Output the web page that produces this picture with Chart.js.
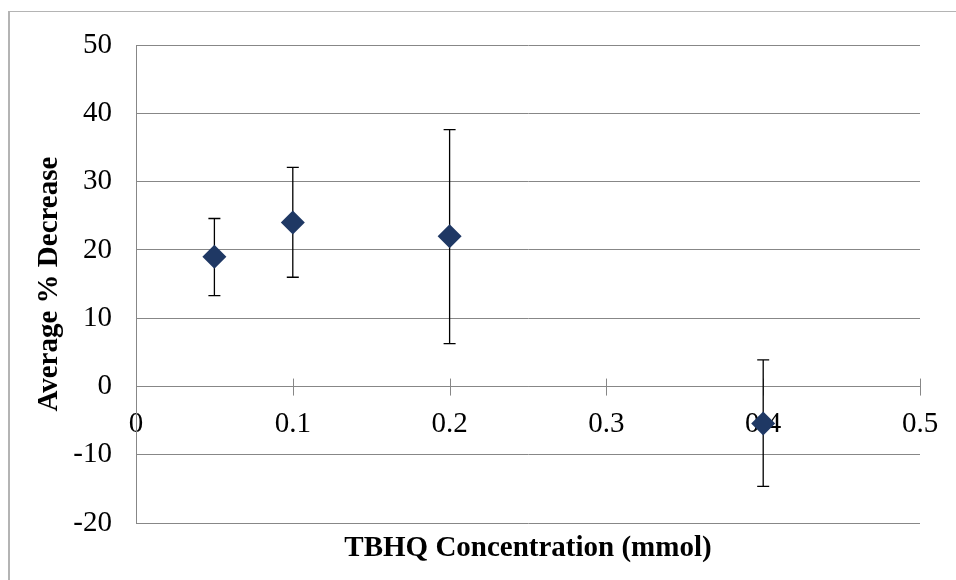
<!DOCTYPE html>
<html>
<head>
<meta charset="utf-8">
<script src="https://cdn.jsdelivr.net/npm/chart.js@4.4.0/dist/chart.umd.min.js"></script>
<style>
  html, body { margin: 0; padding: 0; background: #fff; }
  #wrap { width: 956px; height: 580px; }
</style>
</head>
<body>
<div id="wrap"><canvas id="chart" width="956" height="580"></canvas></div>
<script>
// data
const concentrations = [0.05, 0.1, 0.2, 0.4];
const avgDecrease = [19, 24, 22, -5.4];
const errHigh = [24.6, 32.1, 37.6, 3.9];
const errLow = [13.3, 16.0, 6.3, -14.6];
const xTicks = [0, 0.1, 0.2, 0.3, 0.4, 0.5];
const yTicks = [-20, -10, 0, 10, 20, 30, 40, 50];

const serif = '"Liberation Serif", "Times New Roman", serif';
const gridColor = '#878787';
const markerColor = '#1f3864';

// light grey frame round the whole chart
const frame = {
  id: 'frame',
  beforeDraw(chart) {
    const c = chart.ctx;
    c.save();
    c.fillStyle = '#fff';
    c.fillRect(0, 0, chart.width, chart.height);
    c.strokeStyle = '#b4b4b4';
    c.lineWidth = 1;
    c.beginPath();
    c.moveTo(9, 2000); c.lineTo(9, 11.5); c.lineTo(2000, 11.5);
    c.stroke();
    c.fillStyle = '#b4b4b4';
    c.fillRect(8, 11, 2, chart.height);
    c.restore();
  }
};

// error bars + tick marks crossing the x axis
const errorBars = {
  id: 'errorBars',
  beforeDatasetsDraw(chart) {
    const c = chart.ctx;
    const xs = chart.scales.x, ys = chart.scales.y;
    c.save();
    const y0 = ys.getPixelForValue(0);
    c.strokeStyle = gridColor;
    c.lineWidth = 1;
    xTicks.forEach(v => {
      const px = Math.round(xs.getPixelForValue(v)) + 0.5;
      c.beginPath();
      c.moveTo(px, y0 - 8);
      c.lineTo(px, y0 + 9);
      c.stroke();
    });
    c.strokeStyle = '#000';
    c.lineWidth = 1.3;
    concentrations.forEach((v, i) => {
      const px = xs.getPixelForValue(v);
      const top = ys.getPixelForValue(errHigh[i]);
      const bot = ys.getPixelForValue(errLow[i]);
      c.beginPath();
      c.moveTo(px, top); c.lineTo(px, bot);
      c.moveTo(px - 6, top); c.lineTo(px + 6, top);
      c.moveTo(px - 6, bot); c.lineTo(px + 6, bot);
      c.stroke();
    });
    c.restore();
  }
};

new Chart(document.getElementById('chart'), {
  type: 'scatter',
  data: {
    datasets: [{
      label: 'Average % Decrease',
      data: concentrations.map((x, i) => ({ x: x, y: avgDecrease[i] })),
      pointStyle: 'rectRot',
      pointRadius: 12,
      backgroundColor: markerColor,
      borderColor: markerColor,
      borderWidth: 0
    }]
  },
  options: {
    responsive: false,
    animation: false,
    events: [],
    layout: { padding: { top: 45, right: 36, bottom: 14, left: 0 } },
    plugins: {
      legend: { display: false },
      tooltip: { enabled: false },
      title: {
        display: true,
        position: 'bottom',
        fullSize: false,
        text: 'TBHQ Concentration (mmol)',
        color: '#000',
        font: { family: serif, size: 29, weight: 'bold' },
        padding: { top: 8, bottom: 0 }
      }
    },
    scales: {
      x: {
        type: 'linear',
        position: { y: 0 },
        min: 0,
        max: 0.5,
        z: 1,
        afterBuildTicks: s => { s.ticks = xTicks.map(v => ({ value: v })); },
        afterFit: s => { s.paddingLeft = 0; s.paddingRight = 0; },
        grid: { drawOnChartArea: false, drawTicks: false },
        border: { color: gridColor, width: 1 },
        ticks: { color: '#000', padding: 20, maxRotation: 0, font: { family: serif, size: 29 } }
      },
      y: {
        position: 'left',
        min: -20,
        max: 50,
        afterBuildTicks: s => { s.ticks = yTicks.map(v => ({ value: v })); },
        afterFit: s => { s.width = 136; },
        grid: { color: gridColor, drawTicks: false },
        border: { color: gridColor, width: 1 },
        ticks: { color: '#000', padding: 24, font: { family: serif, size: 29 } },
        title: {
          display: true,
          text: 'Average % Decrease',
          color: '#000',
          font: { family: serif, size: 29, weight: 'bold' },
          padding: { top: 32, bottom: 0 }
        }
      }
    }
  },
  plugins: [frame, errorBars]
});
</script>
</body>
</html>
